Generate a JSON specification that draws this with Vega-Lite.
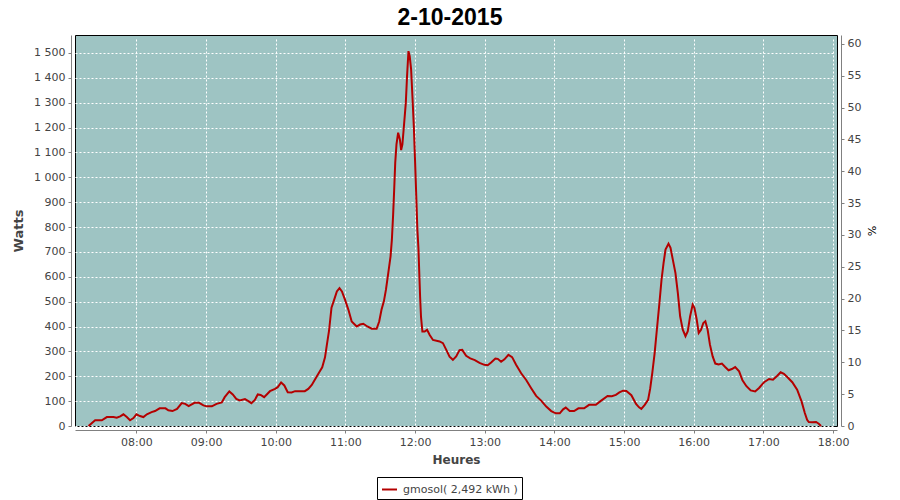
{
  "$schema": "https://vega.github.io/schema/vega-lite/v6.json",
  "autosize": {"type": "none"},
  "padding": {"left": 75, "top": 35, "right": 63, "bottom": 74},
  "width": 762,
  "height": 391,
  "background": "white",
  "title": {"text": "2-10-2015", "font": "Liberation Sans", "fontSize": 23, "fontWeight": "bold", "color": "black", "anchor": "middle", "dx": -6, "offset": 2},
  "config": {
    "view": {"stroke": "black", "strokeWidth": 1, "fill": "#9ec4c3"},
    "axis": {
      "labelFont": "DejaVu Sans", "labelFontSize": 11, "labelColor": "#444444",
      "titleFont": "DejaVu Sans", "titleFontSize": 12, "titleFontWeight": "bold", "titleColor": "#444444",
      "domainColor": "#808080", "tickColor": "#808080", "tickSize": 3, "offset": 4,
      "gridColor": "white", "gridDash": [2, 2], "gridWidth": 1, "gridOpacity": 1
    }
  },
  "layer": [
    {
      "data": {"values": [
        {"h":7.312,"w":0},{"h":7.407,"w":23},{"h":7.503,"w":23},{"h":7.575,"w":36},{"h":7.670,"w":36},{"h":7.717,"w":33},{"h":7.767,"w":39},{"h":7.813,"w":47},{"h":7.862,"w":36},{"h":7.908,"w":23},{"h":7.957,"w":32},
        {"h":8.000,"w":47},{"h":8.050,"w":40},{"h":8.100,"w":36},{"h":8.150,"w":47},{"h":8.217,"w":56},{"h":8.267,"w":60},{"h":8.333,"w":71},{"h":8.417,"w":71},{"h":8.458,"w":63},{"h":8.517,"w":60},{"h":8.583,"w":69},{"h":8.650,"w":92},{"h":8.700,"w":89},{"h":8.750,"w":80},{"h":8.833,"w":93},{"h":8.900,"w":93},{"h":8.962,"w":83},
        {"h":9.008,"w":79},{"h":9.083,"w":79},{"h":9.150,"w":89},{"h":9.225,"w":95},{"h":9.267,"w":116},{"h":9.333,"w":139},{"h":9.383,"w":127},{"h":9.433,"w":109},{"h":9.483,"w":103},{"h":9.558,"w":108},{"h":9.607,"w":100},{"h":9.650,"w":92},{"h":9.700,"w":105},{"h":9.742,"w":127},{"h":9.783,"w":125},{"h":9.833,"w":116},{"h":9.917,"w":140},{"h":9.990,"w":149},
        {"h":10.028,"w":156},{"h":10.077,"w":175},{"h":10.123,"w":163},{"h":10.172,"w":136},{"h":10.228,"w":135},{"h":10.277,"w":140},{"h":10.417,"w":140},{"h":10.467,"w":149},{"h":10.517,"w":165},{"h":10.567,"w":189},{"h":10.633,"w":220},{"h":10.667,"w":236},{"h":10.707,"w":276},{"h":10.732,"w":323},{"h":10.765,"w":383},{"h":10.800,"w":476},{"h":10.838,"w":507},{"h":10.877,"w":541},{"h":10.915,"w":554},{"h":10.950,"w":541},{"h":10.995,"w":507},
        {"h":11.043,"w":467},{"h":11.090,"w":420},{"h":11.162,"w":400},{"h":11.210,"w":408},{"h":11.257,"w":411},{"h":11.315,"w":400},{"h":11.377,"w":391},{"h":11.448,"w":391},{"h":11.485,"w":420},{"h":11.518,"w":467},{"h":11.552,"w":501},{"h":11.582,"w":548},{"h":11.615,"w":615},{"h":11.648,"w":682},{"h":11.667,"w":749},{"h":11.685,"w":850},{"h":11.700,"w":950},{"h":11.715,"w":1058},{"h":11.733,"w":1132},{"h":11.757,"w":1179},{"h":11.782,"w":1152},{"h":11.800,"w":1109},{"h":11.818,"w":1132},{"h":11.838,"w":1199},{"h":11.867,"w":1299},{"h":11.885,"w":1407},{"h":11.905,"w":1507},{"h":11.923,"w":1487},{"h":11.943,"w":1434},{"h":11.962,"w":1326},{"h":11.982,"w":1205},
        {"h":12.000,"w":1064},{"h":12.018,"w":917},{"h":12.033,"w":789},{"h":12.048,"w":715},{"h":12.057,"w":642},{"h":12.072,"w":521},{"h":12.085,"w":440},{"h":12.105,"w":380},{"h":12.138,"w":380},{"h":12.172,"w":387},{"h":12.210,"w":366},{"h":12.257,"w":346},{"h":12.352,"w":340},{"h":12.400,"w":333},{"h":12.448,"w":306},{"h":12.495,"w":279},{"h":12.543,"w":266},{"h":12.590,"w":280},{"h":12.638,"w":305},{"h":12.677,"w":306},{"h":12.733,"w":282},{"h":12.792,"w":272},{"h":12.858,"w":265},{"h":12.925,"w":254},{"h":12.995,"w":246},
        {"h":13.043,"w":244},{"h":13.092,"w":255},{"h":13.153,"w":271},{"h":13.187,"w":270},{"h":13.235,"w":258},{"h":13.283,"w":268},{"h":13.340,"w":286},{"h":13.393,"w":277},{"h":13.450,"w":246},{"h":13.523,"w":212},{"h":13.595,"w":185},{"h":13.667,"w":152},{"h":13.738,"w":121},{"h":13.810,"w":102},{"h":13.883,"w":78},{"h":13.955,"w":60},
        {"h":14.020,"w":51},{"h":14.077,"w":51},{"h":14.125,"w":67},{"h":14.163,"w":74},{"h":14.220,"w":60},{"h":14.283,"w":60},{"h":14.345,"w":71},{"h":14.427,"w":71},{"h":14.498,"w":85},{"h":14.595,"w":85},{"h":14.667,"w":101},{"h":14.763,"w":121},{"h":14.825,"w":120},{"h":14.883,"w":125},{"h":14.933,"w":135},{"h":14.985,"w":142},
        {"h":15.033,"w":141},{"h":15.105,"w":124},{"h":15.172,"w":89},{"h":15.215,"w":75},{"h":15.248,"w":69},{"h":15.297,"w":85},{"h":15.345,"w":105},{"h":15.375,"w":150},{"h":15.405,"w":213},{"h":15.438,"w":290},{"h":15.472,"w":390},{"h":15.508,"w":495},{"h":15.538,"w":588},{"h":15.567,"w":655},{"h":15.595,"w":709},{"h":15.638,"w":733},{"h":15.667,"w":716},{"h":15.700,"w":669},{"h":15.738,"w":615},{"h":15.772,"w":535},{"h":15.805,"w":441},{"h":15.843,"w":387},{"h":15.882,"w":361},{"h":15.915,"w":381},{"h":15.948,"w":441},{"h":15.985,"w":488},
        {"h":16.010,"w":475},{"h":16.043,"w":428},{"h":16.072,"w":374},{"h":16.105,"w":387},{"h":16.138,"w":414},{"h":16.167,"w":421},{"h":16.200,"w":387},{"h":16.233,"w":327},{"h":16.272,"w":280},{"h":16.310,"w":251},{"h":16.357,"w":247},{"h":16.405,"w":251},{"h":16.452,"w":237},{"h":16.500,"w":224},{"h":16.548,"w":229},{"h":16.595,"w":237},{"h":16.652,"w":220},{"h":16.700,"w":184},{"h":16.757,"w":160},{"h":16.818,"w":143},{"h":16.882,"w":139},{"h":16.938,"w":153},
        {"h":17.010,"w":176},{"h":17.082,"w":189},{"h":17.138,"w":186},{"h":17.200,"w":202},{"h":17.248,"w":216},{"h":17.295,"w":210},{"h":17.357,"w":193},{"h":17.415,"w":176},{"h":17.485,"w":146},{"h":17.548,"w":99},{"h":17.595,"w":52},{"h":17.628,"w":25},{"h":17.652,"w":16},{"h":17.700,"w":15},{"h":17.757,"w":16},{"h":17.795,"w":9},{"h":17.828,"w":0}
      ]},
      "mark": {"type": "line", "strokeWidth": 2, "interpolate": "linear"},
      "encoding": {
        "x": {
          "field": "h", "type": "quantitative", "title": "Heures",
          "scale": {"domain": [7.118, 18.057], "nice": false, "zero": false},
          "axis": {
            "values": [8,9,10,11,12,13,14,15,16,17,18],
            "labelExpr": "(datum.value < 10 ? '0' : '') + datum.value + ':00'",
            "labelPadding": 3, "titlePadding": 7, "grid": true, "labelFlush": false
          }
        },
        "y": {
          "field": "w", "type": "quantitative", "title": "Watts",
          "scale": {"domain": [0, 1572], "nice": false, "zero": true},
          "axis": {
            "values": [0,100,200,300,400,500,600,700,800,900,1000,1100,1200,1300,1400,1500],
            "labelExpr": "datum.value >= 1000 ? floor(datum.value / 1000) + ' ' + format(datum.value % 1000, '03d') : '' + datum.value",
            "labelPadding": 3, "titlePadding": 8, "grid": true, "orient": "left", "titleFontSize": 13
          }
        },
        "color": {
          "datum": "gmosol( 2,492 kWh )",
          "scale": {"range": ["#b40000"]},
          "legend": {
            "title": null, "orient": "none", "legendX": 302, "legendY": 442,
            "strokeColor": "black", "padding": 4,
            "symbolType": "stroke", "symbolSize": 225, "symbolStrokeWidth": 2,
            "labelFont": "DejaVu Sans", "labelFontSize": 11, "labelColor": "#444444", "labelOffset": 5
          }
        }
      }
    },
    {
      "data": {"values": [{"p": 0}, {"p": 61.4}]},
      "mark": {"type": "point", "opacity": 0},
      "encoding": {
        "y": {
          "field": "p", "type": "quantitative", "title": "%",
          "scale": {"domain": [0, 61.4], "nice": false},
          "axis": {
            "orient": "right", "grid": false,
            "values": [0,5,10,15,20,25,30,35,40,45,50,55,60],
            "labelPadding": 3, "titlePadding": 5,
            "titleFontWeight": "normal", "titleFontSize": 11, "titleColor": "#000000"
          }
        }
      }
    }
  ],
  "resolve": {"scale": {"y": "independent"}}
}
